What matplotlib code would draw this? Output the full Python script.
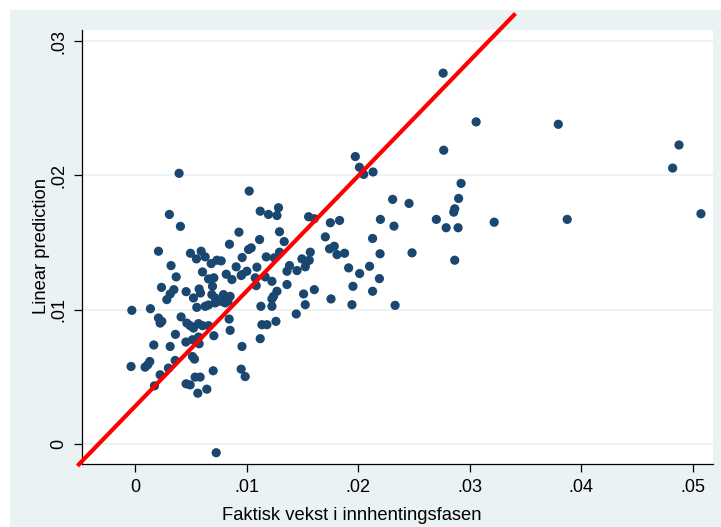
import matplotlib
matplotlib.use("Agg")
import matplotlib.pyplot as plt
from matplotlib.patches import Rectangle
import numpy as np

plt.rcParams['font.family'] = ['Liberation Sans', 'DejaVu Sans']

points = [
    (0.00392, 0.02015), (0.00305, 0.01709), (0.00404, 0.01620), (0.00207, 0.01435),
    (0.00494, 0.01420), (0.00590, 0.01435), (0.00548, 0.01378), (0.00626, 0.01393),
    (0.00680, 0.01343), (0.00731, 0.01368), (0.00770, 0.01363), (0.00929, 0.01577),
    (0.00844, 0.01487), (0.00320, 0.01328), (0.00602, 0.01281), (0.00366, 0.01244),
    (0.00656, 0.01229), (0.00704, 0.01237), (0.00815, 0.01264), (0.00904, 0.01319),
    (0.00866, 0.01224), (0.00949, 0.01254), (0.00692, 0.01174), (0.00234, 0.01166),
    (0.00345, 0.01149), (0.00312, 0.01117), (0.00282, 0.01075), (0.00455, 0.01134),
    (0.00572, 0.01154), (0.00584, 0.01124), (0.00521, 0.01087), (0.00686, 0.01112),
    (0.00716, 0.01087), (0.00790, 0.01112), (0.00850, 0.01099), (0.00770, 0.01062),
    (0.00806, 0.01050), (-0.00032, 0.00995), (0.00135, 0.01007), (0.00551, 0.01017),
    (0.00626, 0.01025), (0.00656, 0.01035), (0.00716, 0.01050), (0.00207, 0.00938),
    (0.00237, 0.00913), (0.00222, 0.00900), (0.00410, 0.00946), (0.00462, 0.00900),
    (0.00491, 0.00881), (0.00521, 0.00863), (0.00566, 0.00896), (0.00602, 0.00881),
    (0.00656, 0.00881), (0.00841, 0.00930), (0.00850, 0.00846), (0.00359, 0.00816),
    (0.00704, 0.00806), (0.00165, 0.00737), (0.00312, 0.00726), (0.00453, 0.00759),
    (0.00512, 0.00776), (0.00566, 0.00796), (0.00572, 0.00746), (0.00956, 0.00726),
    (-0.00039, 0.00577), (0.00087, 0.00572), (0.00111, 0.00590), (0.00129, 0.00614),
    (0.00357, 0.00622), (0.00296, 0.00565), (0.00512, 0.00651), (0.00530, 0.00632),
    (0.00222, 0.00515), (0.00171, 0.00433), (0.00455, 0.00448), (0.00491, 0.00440),
    (0.00536, 0.00498), (0.00581, 0.00498), (0.00641, 0.00408), (0.00560, 0.00378),
    (0.00698, 0.00545), (0.00949, 0.00557), (0.00985, 0.00502), (0.00725, -0.00065),
    (0.01021, 0.01883), (0.01120, 0.01733), (0.01194, 0.01709), (0.01270, 0.01701),
    (0.01284, 0.01759), (0.01554, 0.01692), (0.01605, 0.01677), (0.01749, 0.01647),
    (0.01832, 0.01664), (0.01114, 0.01522), (0.01293, 0.01580), (0.01335, 0.01507),
    (0.01704, 0.01542), (0.01015, 0.01448), (0.01039, 0.01460), (0.01174, 0.01393),
    (0.01246, 0.01386), (0.01293, 0.01428), (0.01569, 0.01428), (0.01742, 0.01453),
    (0.01784, 0.01472), (0.01809, 0.01410), (0.01877, 0.01420), (0.00958, 0.01388),
    (0.01000, 0.01286), (0.00956, 0.01261), (0.01090, 0.01316), (0.01075, 0.01237),
    (0.01165, 0.01244), (0.01225, 0.01211), (0.01084, 0.01179), (0.01360, 0.01187),
    (0.01383, 0.01328), (0.01360, 0.01286), (0.01450, 0.01291), (0.01494, 0.01378),
    (0.01533, 0.01353), (0.01560, 0.01368), (0.01524, 0.01319), (0.01913, 0.01311),
    (0.02012, 0.01269), (0.02101, 0.01323), (0.01952, 0.01174), (0.01943, 0.01037),
    (0.01973, 0.02140), (0.02010, 0.02060), (0.02048, 0.02007), (0.02132, 0.02025),
    (0.01605, 0.01149), (0.01509, 0.01117), (0.01755, 0.01080), (0.01524, 0.01037),
    (0.01270, 0.01137), (0.01239, 0.01099), (0.01225, 0.01080), (0.01126, 0.01025),
    (0.01225, 0.01025), (0.01443, 0.00968), (0.01135, 0.00888), (0.01180, 0.00888),
    (0.01261, 0.00913), (0.01120, 0.00784), (0.02922, 0.01940), (0.02900, 0.01828),
    (0.02865, 0.01751), (0.02856, 0.01726), (0.02308, 0.01821), (0.02455, 0.01791),
    (0.02198, 0.01672), (0.02320, 0.01622), (0.02700, 0.01672), (0.02788, 0.01610),
    (0.02895, 0.01610), (0.03219, 0.01651), (0.02128, 0.01530), (0.02195, 0.01416),
    (0.02482, 0.01423), (0.02865, 0.01368), (0.02189, 0.01231), (0.02128, 0.01137),
    (0.02330, 0.01032), (0.02761, 0.02761), (0.03057, 0.02398), (0.03794, 0.02380),
    (0.02766, 0.02187), (0.04877, 0.02226), (0.04820, 0.02054), (0.05074, 0.01714),
    (0.03874, 0.01672), (0.00830, 0.01062),
]
actual_growth = [p[0] for p in points]
linear_prediction = [p[1] for p in points]

# Reference line
line_x = [-0.0052, 0.0341]
line_y = [-0.00163, 0.03205]

x_ticks = [0, 0.01, 0.02, 0.03, 0.04, 0.05]
x_tick_labels = ['0', '.01', '.02', '.03', '.04', '.05']
y_ticks = [0, 0.01, 0.02, 0.03]
y_tick_labels = ['0', '.01', '.02', '.03']

BG = '#EAF2F3'
NAVY = '#1A476F'

W, H = 721, 527
fig = plt.figure(figsize=(W / 100, H / 100), dpi=100)
fig.patch.set_facecolor('white')
bg = Rectangle((10 / W, 0), 1 - 10 / W, (H - 10) / H,
               transform=fig.transFigure, facecolor=BG,
               edgecolor='none', zorder=-10)
fig.patches.append(bg)

ax = fig.add_axes([82 / W, (H - 464) / H, 631 / W, 434 / H], zorder=1)
ax.set_facecolor('white')
ax.set_xlim(-0.00479, 0.05182)
ax.set_ylim(-0.00149, 0.03082)

for yt in y_ticks:
    ax.axhline(yt, color=BG, lw=1.3, zorder=1)

ax.scatter(actual_growth, linear_prediction, s=44, color=NAVY,
           edgecolors='none', zorder=3)
ax.plot(line_x, line_y, color='#FF0000', lw=3.0, zorder=4, clip_on=False,
        solid_capstyle='butt')

for s in ['top', 'right']:
    ax.spines[s].set_visible(False)
for s in ['left', 'bottom']:
    ax.spines[s].set_color('black')
    ax.spines[s].set_linewidth(0.9)

ax.set_xticks(x_ticks)
ax.set_xticklabels(x_tick_labels)
ax.set_yticks(y_ticks)
ax.set_yticklabels(y_tick_labels, rotation=90, va='center')
ax.tick_params(axis='both', direction='out', length=5.5, width=0.9,
               labelsize=13, colors='black')
ax.tick_params(axis='x', pad=5)
ax.tick_params(axis='y', pad=5)

fig.text(352 / W, 1 - 515 / H, 'Faktisk vekst i innhentingsfasen',
         ha='center', va='center', fontsize=13.2)
fig.text(41 / W, 1 - 246 / H, 'Linear prediction', rotation=90,
         ha='center', va='center', fontsize=13.2)

fig.savefig('out.png', dpi=100, facecolor=fig.get_facecolor())
